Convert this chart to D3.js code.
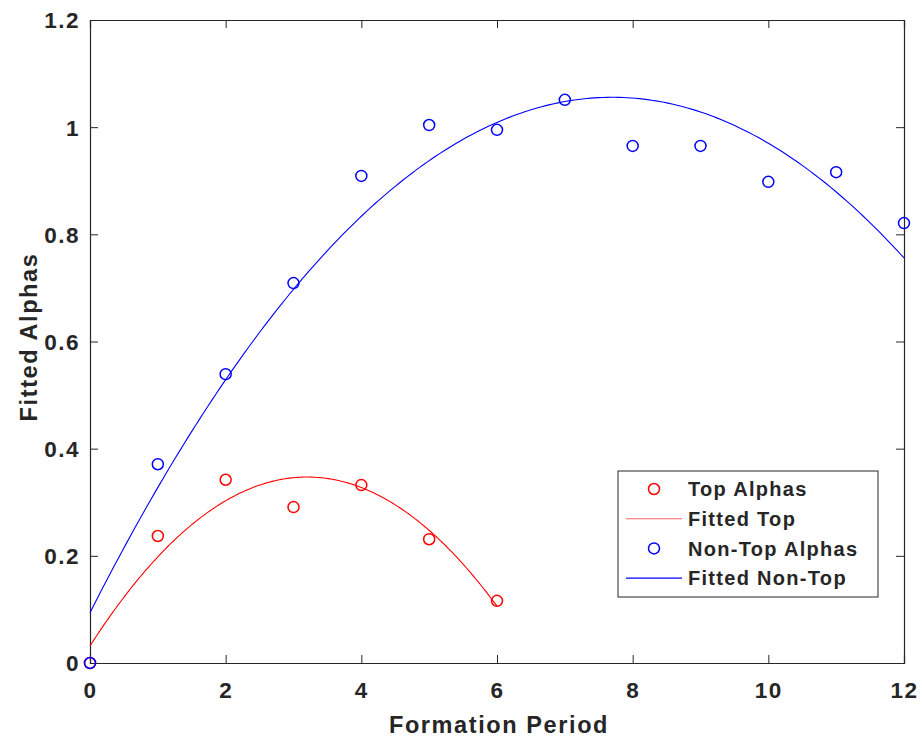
<!DOCTYPE html>
<html>
<head>
<meta charset="utf-8">
<script src="https://cdn.jsdelivr.net/npm/d3@7"></script>
<style>
  body { margin: 0; background: #fff; }
  text { font-family: "Liberation Sans", Arial, Helvetica, sans-serif; font-weight: bold; fill: #262626; }
</style>
</head>
<body>
<svg id="chart" width="922" height="738"></svg>
<script>
"use strict";

// data
var topX = [0, 1, 2, 3, 4, 5, 6];
var topAlphas = [0, 0.237, 0.342, 0.291, 0.332, 0.231, 0.116];
var nonTopX = [0, 1, 2, 3, 4, 5, 6, 7, 8, 9, 10, 11, 12];
var nonTopAlphas = [0, 0.371, 0.539, 0.709, 0.909, 1.004, 0.995, 1.051, 0.965, 0.965, 0.898, 0.916, 0.821];
// quadratic fit coefficients [c0, c1, c2]
var topFit = [0.032, 0.1969, -0.03076];
var nonTopFit = [0.094, 0.2498, -0.01622];
var xTicks = [0, 2, 4, 6, 8, 10, 12];
var yTicks = [0, 0.2, 0.4, 0.6, 0.8, 1, 1.2];
var legendLabels = ["Top Alphas", "Fitted Top", "Non-Top Alphas", "Fitted Non-Top"];

var svg = d3.select('#chart');
var pLeft = 90, pRight = 904, pTop = 20, pBottom = 663;

var x = d3.scaleLinear().domain([0, 12]).range([pLeft, pRight]);
var y = d3.scaleLinear().domain([0, 1.2]).range([pBottom, pTop]);

function fitPoints(coef, x0, x1) {
	var pts = [];
	for (var i = 0; i <= 200; i++) {
		var t = x0 + (x1 - x0) * i / 200;
		pts.push([t, coef[0] + coef[1] * t + coef[2] * t * t]);
	}
	return pts;
}

var axisColor = '#262626';
var fmt = function(d) { return d3.format('~g')(d); };

// axes with inward ticks on all four sides
var gx = svg.append('g').attr('transform', 'translate(0,' + pBottom + ')')
	.call(d3.axisBottom(x).tickValues(xTicks).tickSize(-8).tickPadding(19).tickFormat(fmt));
var gxt = svg.append('g').attr('transform', 'translate(0,' + pTop + ')')
	.call(d3.axisTop(x).tickValues(xTicks).tickSize(-8).tickFormat(''));
var gy = svg.append('g').attr('transform', 'translate(' + pLeft + ',0)')
	.call(d3.axisLeft(y).tickValues(yTicks).tickSize(-8).tickPadding(10).tickFormat(fmt));
var gyr = svg.append('g').attr('transform', 'translate(' + pRight + ',0)')
	.call(d3.axisRight(y).tickValues(yTicks).tickSize(-8).tickFormat(''));

[gx, gxt, gy, gyr].forEach(function(g) {
	g.select('.domain').attr('stroke', axisColor).attr('stroke-width', 1.2);
	g.selectAll('.tick line').attr('stroke', axisColor).attr('stroke-width', 1);
	g.selectAll('.tick text').attr('fill', axisColor)
		.style('font-size', '22.5px').style('font-weight', 'bold')
		.style('letter-spacing', '1.5px')
		.style('font-family', '"Liberation Sans", Arial, sans-serif');
});
gx.selectAll('.tick text').attr('dy', '0.71em');
gy.selectAll('.tick text').attr('dy', '0.35em');

// fitted curves
var line = d3.line().x(function(d) { return x(d[0]); }).y(function(d) { return y(d[1]); });
svg.append('path').datum(fitPoints(topFit, 0, 6)).attr('d', line)
	.attr('fill', 'none').attr('stroke', '#ff0000').attr('stroke-width', 1.1);
svg.append('path').datum(fitPoints(nonTopFit, 0, 12)).attr('d', line)
	.attr('fill', 'none').attr('stroke', '#0000ff').attr('stroke-width', 1.1);

// markers
svg.append('g').selectAll('circle').data(topX).join('circle')
	.attr('cx', function(d) { return x(d); })
	.attr('cy', function(d, i) { return y(topAlphas[i]); })
	.attr('r', 5.5).attr('fill', 'none').attr('stroke', '#ff0000').attr('stroke-width', 1.5);
svg.append('g').selectAll('circle').data(nonTopX).join('circle')
	.attr('cx', function(d) { return x(d); })
	.attr('cy', function(d, i) { return y(nonTopAlphas[i]); })
	.attr('r', 5.5).attr('fill', 'none').attr('stroke', '#0000ff').attr('stroke-width', 1.5);

// axis titles
svg.append('text').attr('x', 499).attr('y', 733)
	.attr('text-anchor', 'middle').style('font-size', '23.5px').style('letter-spacing', '1.6px')
	.text('Formation Period');
svg.append('text').attr('transform', 'translate(37,337) rotate(-90)')
	.attr('text-anchor', 'middle').style('font-size', '23.5px').style('letter-spacing', '1.6px')
	.text('Fitted Alphas');

// legend
var lg = svg.append('g').attr('transform', 'translate(618,471)');
lg.append('rect').attr('width', 260).attr('height', 126)
	.attr('fill', '#fff').attr('stroke', axisColor).attr('stroke-width', 1);
var colors = ['#ff0000', '#ff0000', '#0000ff', '#0000ff'];
legendLabels.forEach(function(lab, i) {
	var ly = 18 + i * 29.7;
	if (i % 2 === 0) {
		lg.append('circle').attr('cx', 36).attr('cy', ly).attr('r', 5.5)
			.attr('fill', 'none').attr('stroke', colors[i]).attr('stroke-width', 1.5);
	} else {
		lg.append('line').attr('x1', 8).attr('x2', 64).attr('y1', ly).attr('y2', ly)
			.attr('stroke', colors[i]).attr('stroke-width', 1.1)
			.attr('stroke-opacity', i === 1 ? 0.6 : 1);
	}
	lg.append('text').attr('x', 70).attr('y', ly).attr('dy', '0.36em')
		.style('font-size', '20px').style('letter-spacing', '1.3px').text(lab);
});
</script>
</body>
</html>
